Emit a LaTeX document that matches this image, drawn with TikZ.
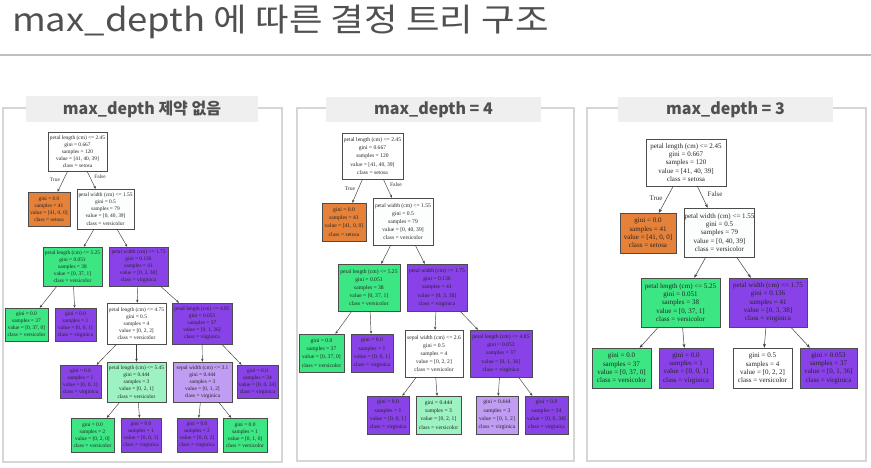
\documentclass[tikz,border=0pt]{standalone}
\usepackage{fontspec}
\setmainfont{Liberation Serif}
\newfontfamily\krfont{Noto Sans CJK KR}
\usetikzlibrary{arrows.meta}
\definecolor{cOR}{HTML}{E58139}
\definecolor{cGR}{HTML}{3CE683}
\definecolor{cPU}{HTML}{8842E7}
\definecolor{cLG}{HTML}{9CF2C0}
\definecolor{cLP}{HTML}{C09CF2}
\definecolor{cNW}{HTML}{FBFEFC}
\definecolor{titlegray}{HTML}{505050}
\definecolor{lblgray}{HTML}{505050}
\definecolor{lblfill}{HTML}{EFEFEF}
\definecolor{panelline}{HTML}{D6D6D6}
\tikzset{
  tn/.style={draw=black!70, line width=0.45pt, inner sep=0pt, align=center, text=black!85},
  fa/.style={font=\fontsize{5.4}{7.1}\selectfont},
  fb/.style={font=\fontsize{5.6}{8.2}\selectfont},
  fc/.style={font=\fontsize{7}{8.3}\selectfont},
  W/.style={fill=white}, NW/.style={fill=cNW}, OR/.style={fill=cOR}, GR/.style={fill=cGR},
  PU/.style={fill=cPU}, LG/.style={fill=cLG}, LP/.style={fill=cLP},
  arr/.style={-{Stealth[length=3pt,width=2.4pt]}, draw=black!75, line width=0.45pt},
  arrc/.style={-{Stealth[length=4pt,width=3pt]}, draw=black!75, line width=0.5pt},
  panel/.style={draw=panelline, line width=1.3pt},
  lbl/.style={fill=lblfill, inner sep=0pt, text=lblgray, font=\krfont\bfseries\fontsize{16}{16}\selectfont},
  elab/.style={inner sep=0pt, text=black!80}
}
\newcommand\tbox[7]{\node[tn,#2,minimum width={#5-#3},minimum height={#6-#4}] (#1) at ({(#3+#5)/2},{(#4+#6)/2}) {#7};}
\begin{document}
\begin{tikzpicture}[x=1pt,y=-1pt]
\useasboundingbox (0,0) rectangle (871,467);
\fill[white] (0,0) rectangle (871,467);
% title
\node[anchor=base west, inner sep=0pt, text=titlegray, font=\krfont\fontsize{32}{32}\selectfont] (title) at (12,31) {\scalebox{1.14}[1]{max\_depth 에 따른 결정 트리 구조}};
\draw[line width=1.6pt, draw=black!25] (0,55) -- (871,55);
% panels
\draw[panel] (3,108) rectangle (282,462);
\draw[panel] (297,108) rectangle (574,461);
\draw[panel] (587,108) rectangle (866,461);
\node[lbl, minimum width=232, minimum height=26] (L1) at (142,109) {max\_depth 제약 없음};
\node[lbl, minimum width=215, minimum height=25] (L2) at (433.5,109.5) {max\_depth = 4};
\node[lbl, minimum width=215, minimum height=25] (L3) at (725.5,109.5) {max\_depth = 3};

% ---------------- panel 1 ----------------
\tbox{r1}{fa,W}{48}{132}{107}{171}{petal length (cm) <= 2.45\\gini = 0.667\\samples = 120\\value = [41, 40, 39]\\class = setosa}
\tbox{a1}{fa,OR}{28}{192}{70}{226}{gini = 0.0\\samples = 41\\value = [41, 0, 0]\\class = setosa}
\tbox{b1}{fa,NW}{77}{189}{134}{229}{petal width (cm) <= 1.55\\gini = 0.5\\samples = 79\\value = [0, 40, 39]\\class = versicolor}
\tbox{c1}{fa,GR}{43}{247}{102}{286}{petal length (cm) <= 5.25\\gini = 0.051\\samples = 38\\value = [0, 37, 1]\\class = versicolor}
\tbox{d1}{fa,PU}{109}{247}{168}{286}{petal width (cm) <= 1.75\\gini = 0.136\\samples = 41\\value = [0, 3, 38]\\class = virginica}
\tbox{e1}{fa,GR}{5}{308}{48}{341}{gini = 0.0\\samples = 37\\value = [0, 37, 0]\\class = versicolor}
\tbox{f1}{fa,PU}{55}{308}{96}{341}{gini = 0.0\\samples = 1\\value = [0, 0, 1]\\class = virginica}
\tbox{g1}{fa,W}{107}{303}{166}{344}{petal length (cm) <= 4.75\\gini = 0.5\\samples = 4\\value = [0, 2, 2]\\class = versicolor}
\tbox{h1}{fa,PU}{172}{303}{232}{344}{petal length (cm) <= 4.85\\gini = 0.053\\samples = 37\\value = [0, 1, 36]\\class = virginica}
\tbox{i1}{fa,PU}{60}{365}{101}{398}{gini = 0.0\\samples = 1\\value = [0, 0, 1]\\class = virginica}
\tbox{j1}{fa,LG}{107}{362}{166}{402}{petal length (cm) <= 5.45\\gini = 0.444\\samples = 3\\value = [0, 2, 1]\\class = versicolor}
\tbox{k1}{fa,LP}{173}{362}{232}{402}{sepal width (cm) <= 3.1\\gini = 0.444\\samples = 3\\value = [0, 1, 2]\\class = virginica}
\tbox{l1}{fa,PU}{237}{365}{278}{398}{gini = 0.0\\samples = 34\\value = [0, 0, 34]\\class = virginica}
\tbox{m1}{fa,GR}{71}{418}{114}{452}{gini = 0.0\\samples = 2\\value = [0, 2, 0]\\class = versicolor}
\tbox{n1}{fa,PU}{121}{418}{161}{452}{gini = 0.0\\samples = 1\\value = [0, 0, 1]\\class = virginica}
\tbox{o1}{fa,PU}{177}{418}{217}{452}{gini = 0.0\\samples = 2\\value = [0, 0, 2]\\class = virginica}
\tbox{p1}{fa,GR}{223}{418}{267}{452}{gini = 0.0\\samples = 1\\value = [0, 1, 0]\\class = versicolor}
\foreach \p/\c in {r1/a1,r1/b1,b1/c1,b1/d1,c1/e1,c1/f1,d1/g1,d1/h1,g1/i1,g1/j1,h1/k1,h1/l1,j1/m1,j1/n1,k1/o1,k1/p1}
  \draw[arr] (\p) -- (\c);
\node[elab, fa] (t1) at (55,180) {True};
\node[elab, fa] (s1) at (100,177) {False};

% ---------------- panel 2 ----------------
\tbox{r2}{fb,W}{342}{133}{403}{179}{petal length (cm) <= 2.45\\gini = 0.667\\samples = 120\\value = [41, 40, 39]\\class = setosa}
\tbox{a2}{fb,OR}{322}{203}{366}{241}{gini = 0.0\\samples = 41\\value = [41, 0, 0]\\class = setosa}
\tbox{b2}{fb,NW}{373}{198}{433}{245}{petal width (cm) <= 1.55\\gini = 0.5\\samples = 79\\value = [0, 40, 39]\\class = versicolor}
\tbox{c2}{fb,GR}{338}{264}{400}{311}{petal length (cm) <= 5.25\\gini = 0.051\\samples = 38\\value = [0, 37, 1]\\class = versicolor}
\tbox{d2}{fb,PU}{407}{264}{467}{311}{petal width (cm) <= 1.75\\gini = 0.136\\samples = 41\\value = [0, 3, 38]\\class = virginica}
\tbox{e2}{fb,GR}{299}{334}{344}{372}{gini = 0.0\\samples = 37\\value = [0, 37, 0]\\class = versicolor}
\tbox{f2}{fb,PU}{351}{334}{393}{372}{gini = 0.0\\samples = 1\\value = [0, 0, 1]\\class = virginica}
\tbox{g2}{fb,W}{405}{330}{463}{377}{sepal width (cm) <= 2.6\\gini = 0.5\\samples = 4\\value = [0, 2, 2]\\class = versicolor}
\tbox{h2}{fb,PU}{470}{330}{532}{377}{petal length (cm) <= 4.85\\gini = 0.053\\samples = 37\\value = [0, 1, 36]\\class = virginica}
\tbox{i2}{fb,PU}{367}{396}{409}{434}{gini = 0.0\\samples = 1\\value = [0, 0, 1]\\class = virginica}
\tbox{j2}{fb,LG}{416}{396}{461}{434}{gini = 0.444\\samples = 3\\value = [0, 2, 1]\\class = versicolor}
\tbox{k2}{fb,LP}{476}{396}{518}{434}{gini = 0.444\\samples = 3\\value = [0, 1, 2]\\class = virginica}
\tbox{l2}{fb,PU}{525}{396}{568}{434}{gini = 0.0\\samples = 34\\value = [0, 0, 34]\\class = virginica}
\foreach \p/\c in {r2/a2,r2/b2,b2/c2,b2/d2,c2/e2,c2/f2,d2/g2,d2/h2,g2/i2,g2/j2,h2/k2,h2/l2}
  \draw[arr] (\p) -- (\c);
\node[elab, fb] (t2) at (350,189) {True};
\node[elab, fb] (s2) at (396,185) {False};

% ---------------- panel 3 ----------------
\tbox{r3}{fc,W}{646}{139}{726}{186}{petal length (cm) <= 2.45\\gini = 0.667\\samples = 120\\value = [41, 40, 39]\\class = setosa}
\tbox{a3}{fc,OR}{620}{213}{676}{253}{gini = 0.0\\samples = 41\\value = [41, 0, 0]\\class = setosa}
\tbox{b3}{fc,NW}{686}{208}{753}{257}{petal width (cm) <= 1.55\\gini = 0.5\\samples = 79\\value = [0, 40, 39]\\class = versicolor}
\tbox{c3}{fc,GR}{641}{278}{720}{327}{petal length (cm) <= 5.25\\gini = 0.051\\samples = 38\\value = [0, 37, 1]\\class = versicolor}
\tbox{d3}{fc,PU}{729}{278}{807}{327}{petal width (cm) <= 1.75\\gini = 0.136\\samples = 41\\value = [0, 3, 38]\\class = virginica}
\tbox{e3}{fc,GR}{592}{348}{651}{388}{gini = 0.0\\samples = 37\\value = [0, 37, 0]\\class = versicolor}
\tbox{f3}{fc,PU}{659}{348}{713}{388}{gini = 0.0\\samples = 1\\value = [0, 0, 1]\\class = virginica}
\tbox{g3}{fc,W}{733}{348}{792}{388}{gini = 0.5\\samples = 4\\value = [0, 2, 2]\\class = versicolor}
\tbox{h3}{fc,PU}{800}{348}{857}{388}{gini = 0.053\\samples = 37\\value = [0, 1, 36]\\class = virginica}
\foreach \p/\c in {r3/a3,r3/b3,b3/c3,b3/d3,c3/e3,c3/f3,d3/g3,d3/h3}
  \draw[arrc] (\p) -- (\c);
\node[elab, fc] (t3) at (656,198) {True};
\node[elab, fc] (s3) at (715,194) {False};
\end{tikzpicture}
\end{document}
